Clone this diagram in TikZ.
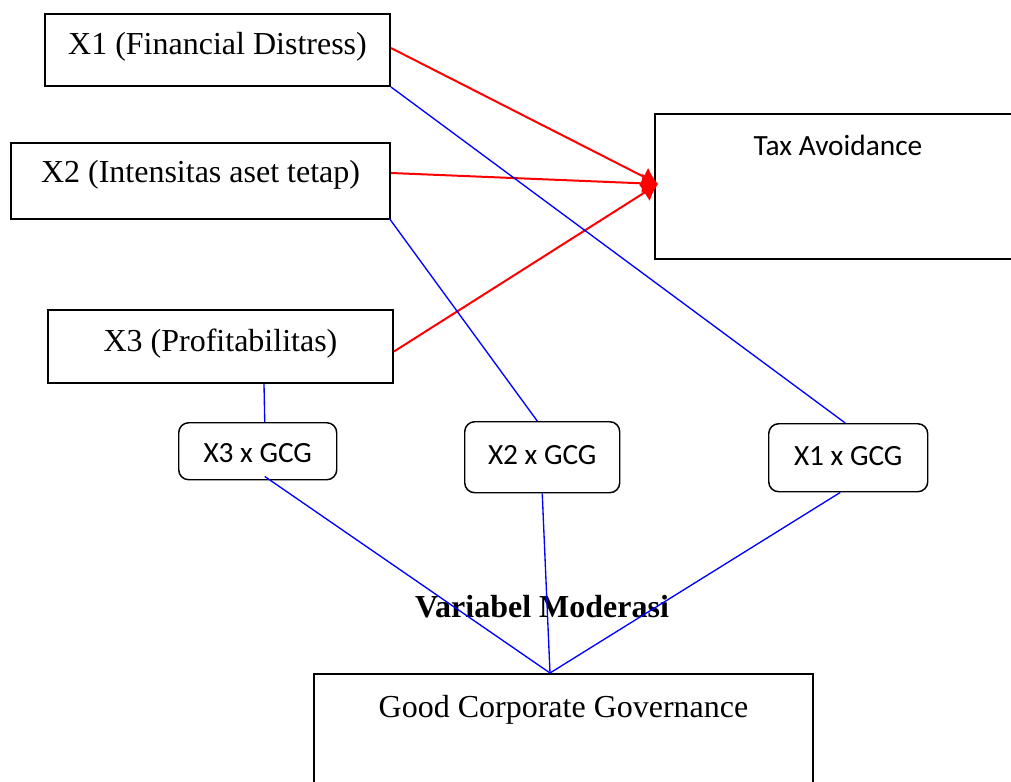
\documentclass[tikz,border=0pt]{standalone}
\usepackage{fontspec}
\setmainfont{Liberation Serif}
\newfontfamily\calibri{Carlito}
\usetikzlibrary{calc,arrows.meta}

\begin{document}
\begin{tikzpicture}[x=0.75pt,y=-0.75pt,
  varbox/.style={draw,line width=1.5pt,anchor=north west,inner sep=0pt,font=\fontsize{24}{28}\selectfont},
  gcgbox/.style={draw,line width=1.1pt,rounded corners=7.5pt,anchor=north west,inner sep=0pt,font=\calibri\fontsize{22}{26}\selectfont},
  redline/.style={red,line width=1.5pt,-{Latex[length=12pt,width=15pt]}},
  blueline/.style={blue,line width=1pt}]
\useasboundingbox (0,0) rectangle (1011,782);
\clip (0,0) rectangle (1011,782);
% independent variables
\node[varbox,minimum width=258.75pt,text height=30pt,text depth=24pt] (x1) at (44,13) {X1 (Financial Distress)};
\node[varbox,minimum width=284.25pt,text height=29.25pt,text depth=27.75pt] (x2) at (10,142) {X2 (Intensitas aset tetap)};
\node[varbox,minimum width=258.75pt,text height=30.75pt,text depth=24pt] (x3) at (47,309) {X3 (Profitabilitas)};
% dependent and moderating variable
\node[varbox,font=\calibri\fontsize{22}{26}\selectfont,minimum width=274.5pt,text height=30.75pt,text depth=78pt] (tax) at (654,113) {Tax Avoidance};
\node[varbox,minimum width=374.25pt,text height=32.25pt,text depth=63pt] (gcg) at (313,673) {Good Corporate Governance};
\node[anchor=base,inner sep=0pt,font=\bfseries\fontsize{24}{28}\selectfont] (moder) at (542,617) {Variabel Moderasi};
% interaction terms
\node[gcgbox,minimum width=118.5pt,text height=30pt,text depth=12.75pt] (x3g) at (178,422) {X3 x GCG};
\node[gcgbox,minimum width=116.25pt,text height=32.25pt,text depth=21pt] (x2g) at (464,421) {X2 x GCG};
\node[gcgbox,minimum width=119.25pt,text height=31.5pt,text depth=19.5pt] (x1g) at (768,423) {X1 x GCG};
% direct effects
\coordinate (hit) at ($(tax.west)+(4,-2.5)$);
\draw[redline] ($(x1.east)+(0,-2)$) -- (hit);
\draw[redline] ($(x2.east)+(0,-8)$) -- (hit);
\draw[redline] ($(x3.east)+(0,5)$) -- (hit);
% moderation
\coordinate (meet) at ($(gcg.north)+(-13.5,0)$);
\draw[blueline] (x1.south east) -- ($(x1g.north)+(-3,0)$);
\draw[blueline] ($(x2.south east)+(-2,-2)$) -- ($(x2g.north)+(-5,0)$);
\draw[blueline] ($(x3.south)+(43.5,0)$) -- ($(x3g.north)+(7,0)$);
\draw[blueline] ($(x3g.south)+(7,-4)$) -- (meet);
\draw[blueline] (x2g.south) -- (meet);
\draw[blueline] ($(x1g.south)+(-8,0)$) -- (meet);
\end{tikzpicture}
\end{document}
